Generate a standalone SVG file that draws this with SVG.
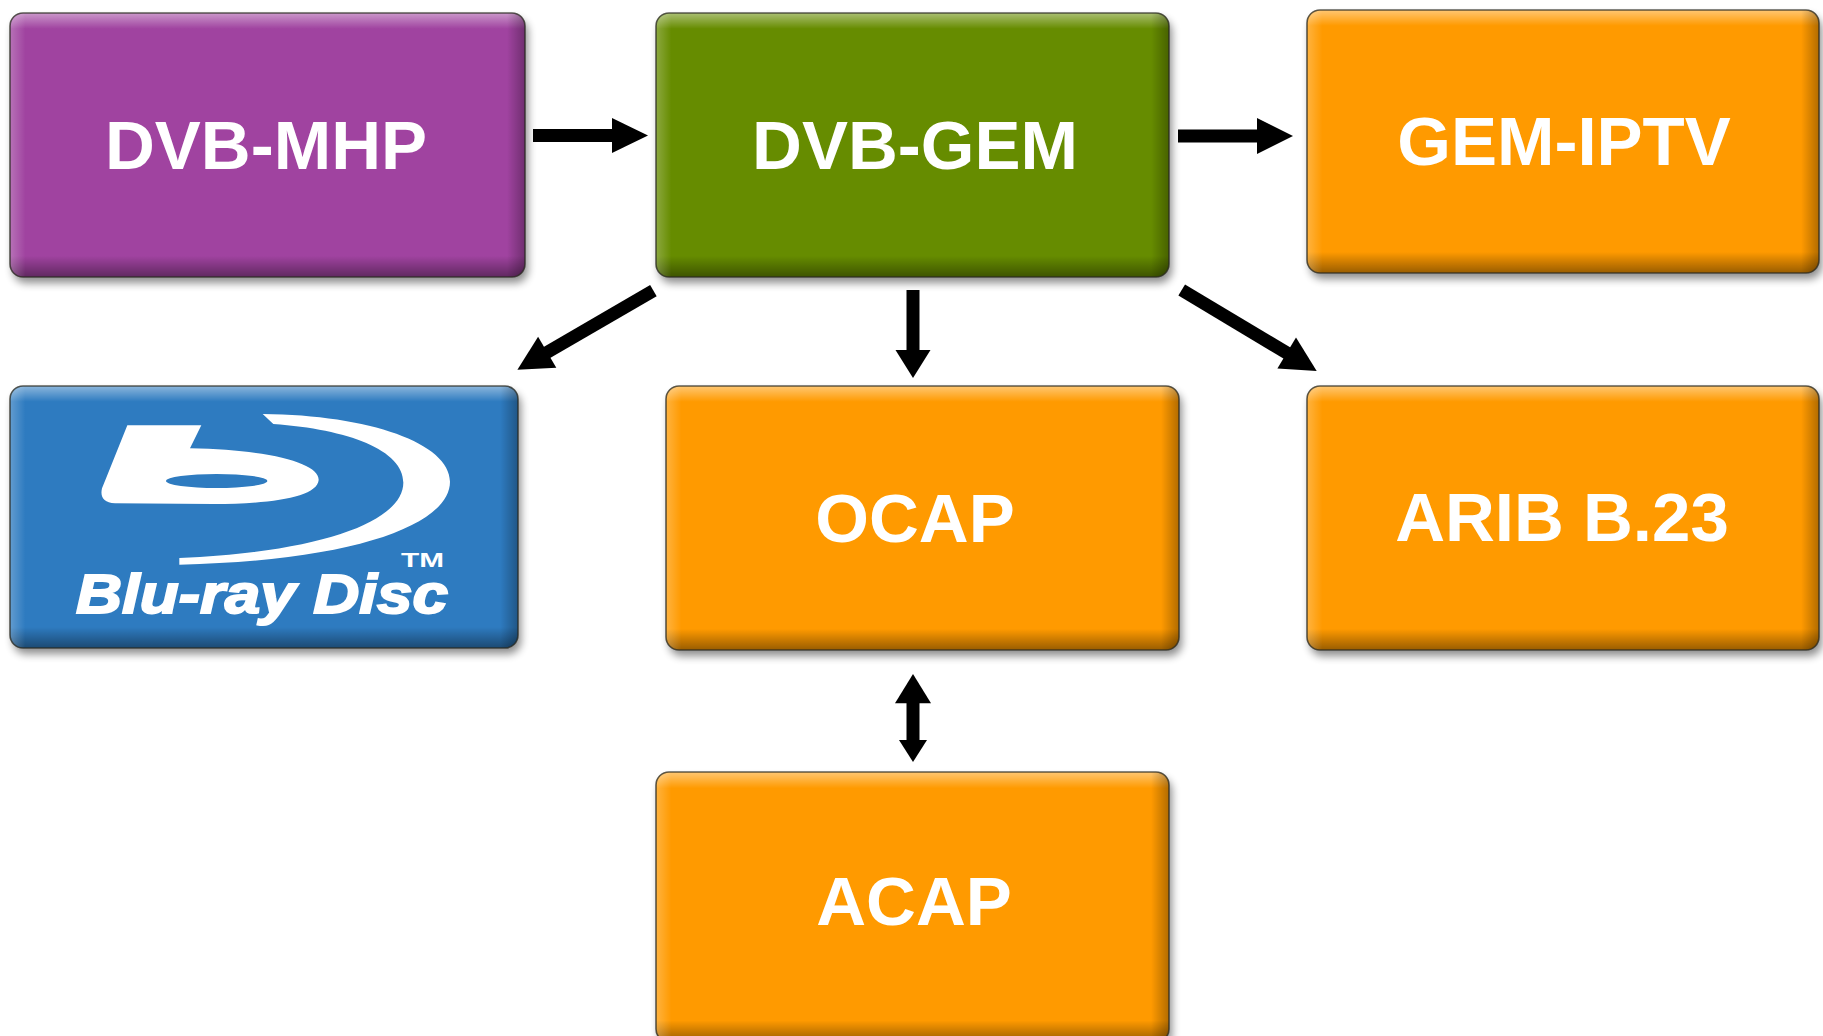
<svg xmlns="http://www.w3.org/2000/svg" width="1823" height="1036" viewBox="0 0 1823 1036">
<defs>
<style>
.lbl{font-family:"Liberation Sans",Arial,sans-serif;font-weight:bold;font-size:69px;fill:#fff;text-anchor:middle}
.edge{fill:none;stroke:#2a2a20;stroke-width:1.6;stroke-opacity:0.75}
.shaft{stroke:#000;stroke-width:13;fill:none}
.head{fill:#000}
.bd{font-family:"Liberation Sans",Arial,sans-serif;font-weight:bold;fill:#fff}
</style>
<filter id="sh" x="-10%" y="-10%" width="125%" height="130%">
<feGaussianBlur in="SourceAlpha" stdDeviation="4"/>
<feOffset dx="3" dy="6" result="b"/>
<feComponentTransfer><feFuncA type="linear" slope="0.45"/></feComponentTransfer>
</filter>
<linearGradient id="gv" x1="0" y1="0" x2="0" y2="1">
<stop offset="0" stop-color="#fff" stop-opacity="0.45"/>
<stop offset="0.06" stop-color="#fff" stop-opacity="0"/>
<stop offset="0.92" stop-color="#000" stop-opacity="0"/>
<stop offset="1" stop-color="#000" stop-opacity="0.4"/>
</linearGradient>
<linearGradient id="gh" x1="0" y1="0" x2="1" y2="0">
<stop offset="0" stop-color="#fff" stop-opacity="0.25"/>
<stop offset="0.03" stop-color="#fff" stop-opacity="0"/>
<stop offset="0.965" stop-color="#000" stop-opacity="0"/>
<stop offset="1" stop-color="#000" stop-opacity="0.3"/>
</linearGradient>
</defs>
<rect width="1823" height="1036" fill="#fff"/>

<g id="dvb-mhp">
<rect x="10" y="13" width="515" height="264" rx="13" fill="#000" filter="url(#sh)"/>
<rect x="10" y="13" width="515" height="264" rx="13" fill="#A043A0"/>
<rect x="10" y="13" width="515" height="264" rx="13" fill="url(#gv)"/>
<rect x="10" y="13" width="515" height="264" rx="13" fill="url(#gh)"/>
<rect x="10" y="13" width="515" height="264" rx="13" class="edge"/>
<text class="lbl" x="266" y="169">DVB-MHP</text>
</g>

<g id="dvb-gem">
<rect x="656" y="13" width="513" height="264" rx="13" fill="#000" filter="url(#sh)"/>
<rect x="656" y="13" width="513" height="264" rx="13" fill="#668C00"/>
<rect x="656" y="13" width="513" height="264" rx="13" fill="url(#gv)"/>
<rect x="656" y="13" width="513" height="264" rx="13" fill="url(#gh)"/>
<rect x="656" y="13" width="513" height="264" rx="13" class="edge"/>
<text class="lbl" x="915" y="169">DVB-GEM</text>
</g>

<g id="gem-iptv">
<rect x="1307" y="10" width="512" height="263" rx="13" fill="#000" filter="url(#sh)"/>
<rect x="1307" y="10" width="512" height="263" rx="13" fill="#FF9A00"/>
<rect x="1307" y="10" width="512" height="263" rx="13" fill="url(#gv)"/>
<rect x="1307" y="10" width="512" height="263" rx="13" fill="url(#gh)"/>
<rect x="1307" y="10" width="512" height="263" rx="13" class="edge"/>
<text class="lbl" x="1564" y="165">GEM-IPTV</text>
</g>

<g id="blu-ray">
<rect x="10" y="386" width="508" height="262" rx="13" fill="#000" filter="url(#sh)"/>
<rect x="10" y="386" width="508" height="262" rx="13" fill="#2E7BC0"/>
<rect x="10" y="386" width="508" height="262" rx="13" fill="url(#gv)"/>
<rect x="10" y="386" width="508" height="262" rx="13" fill="url(#gh)"/>
<rect x="10" y="386" width="508" height="262" rx="13" class="edge"/>
<g transform="translate(40,400) scale(0.33333)" fill="#fff">
<path d="M668,42 C990,45 1230,130 1230,245 C1230,372 950,482 418,494 L418,474 C860,455 1090,360 1090,248 C1090,150 925,88 700,72 Z"/>
<path d="M262,76 L484,76 L450,145 C705,150 838,192 836,240 C832,292 690,312 520,312 L225,310 C190,308 180,290 186,265 L200,230 Z"/>
<ellipse cx="530" cy="243" rx="152" ry="21" fill="#2E7BC0"/>
</g>
<text class="bd" x="76" y="613" font-size="56" font-style="italic" textLength="372" lengthAdjust="spacingAndGlyphs" stroke="#fff" stroke-width="2">Blu-ray Disc</text>
<text class="bd" x="401" y="567" font-size="21" textLength="43" lengthAdjust="spacingAndGlyphs">TM</text>
</g>

<g id="ocap">
<rect x="666" y="386" width="513" height="264" rx="13" fill="#000" filter="url(#sh)"/>
<rect x="666" y="386" width="513" height="264" rx="13" fill="#FF9A00"/>
<rect x="666" y="386" width="513" height="264" rx="13" fill="url(#gv)"/>
<rect x="666" y="386" width="513" height="264" rx="13" fill="url(#gh)"/>
<rect x="666" y="386" width="513" height="264" rx="13" class="edge"/>
<text class="lbl" x="915" y="542">OCAP</text>
</g>

<g id="arib-b23">
<rect x="1307" y="386" width="512" height="264" rx="13" fill="#000" filter="url(#sh)"/>
<rect x="1307" y="386" width="512" height="264" rx="13" fill="#FF9A00"/>
<rect x="1307" y="386" width="512" height="264" rx="13" fill="url(#gv)"/>
<rect x="1307" y="386" width="512" height="264" rx="13" fill="url(#gh)"/>
<rect x="1307" y="386" width="512" height="264" rx="13" class="edge"/>
<text class="lbl" x="1562" y="541">ARIB B.23</text>
</g>

<g id="acap">
<rect x="656" y="772" width="513" height="270" rx="13" fill="#000" filter="url(#sh)"/>
<rect x="656" y="772" width="513" height="270" rx="13" fill="#FF9A00"/>
<rect x="656" y="772" width="513" height="270" rx="13" fill="url(#gv)"/>
<rect x="656" y="772" width="513" height="270" rx="13" fill="url(#gh)"/>
<rect x="656" y="772" width="513" height="270" rx="13" class="edge"/>
<text class="lbl" x="914" y="925">ACAP</text>
</g>

<g id="connectors">
<line class="shaft" x1="533" y1="135.5" x2="614" y2="135.5"/>
<polygon class="head" points="612,118 648,135.5 612,153"/>
<line class="shaft" x1="1178" y1="136" x2="1259" y2="136"/>
<polygon class="head" points="1257,118 1293,136 1257,154"/>
<line class="shaft" x1="913" y1="290" x2="913" y2="352"/>
<polygon class="head" points="895.5,350 930.5,350 913,378"/>
<line class="shaft" x1="653.4" y1="290.6" x2="546" y2="353"/>
<polygon class="head" points="556.3,367.8 517.4,369.7 538.1,336.8"/>
<line class="shaft" x1="1181.7" y1="290" x2="1288" y2="353.7"/>
<polygon class="head" points="1277.4,368.4 1316.7,371 1296,337.6"/>
<line class="shaft" x1="913" y1="701" x2="913" y2="742"/>
<polygon class="head" points="895,703.3 931,703.3 913,674"/>
<polygon class="head" points="899,740 927,740 913,762"/>
</g>
</svg>
